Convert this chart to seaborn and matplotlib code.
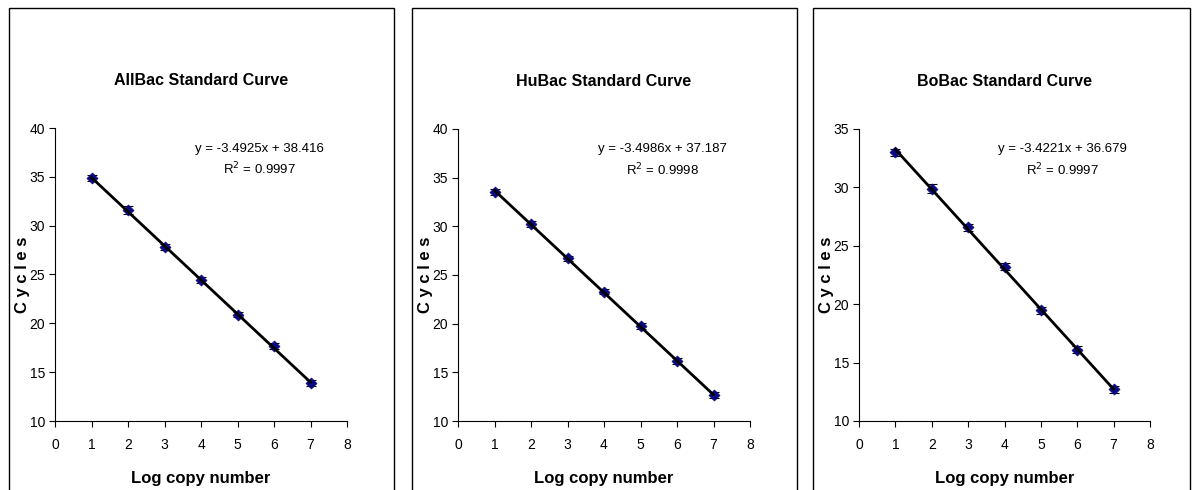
import numpy as np
import pandas as pd
import matplotlib.pyplot as plt
import seaborn as sns
from matplotlib.patches import Rectangle

log_copy = [1, 2, 3, 4, 5, 6, 7]

allbac_ct = [34.9, 31.6, 27.8, 24.4, 20.9, 17.7, 13.9]
allbac_err = [0.3, 0.45, 0.3, 0.3, 0.3, 0.3, 0.3]
hubac_ct = [33.5, 30.2, 26.7, 23.3, 19.8, 16.2, 12.7]
hubac_err = [0.3, 0.3, 0.3, 0.3, 0.3, 0.3, 0.3]
bobac_ct = [33.0, 29.9, 26.6, 23.2, 19.5, 16.1, 12.7]
bobac_err = [0.3, 0.35, 0.3, 0.3, 0.3, 0.3, 0.3]

titles = ["AllBac Standard Curve", "HuBac Standard Curve", "BoBac Standard Curve"]
slopes = [-3.4925, -3.4986, -3.4221]
intercepts = [38.416, 37.187, 36.679]
r2 = ["0.9997", "0.9998", "0.9997"]
y_tops = [40, 40, 35]

sns.set_style("white")
plt.rcParams['font.family'] = ['Liberation Sans Narrow', 'Liberation Sans', 'DejaVu Sans']
plt.rcParams.update({"text.color": "black", "axes.labelcolor": "black",
                     "xtick.color": "black", "ytick.color": "black"})

fig = plt.figure(figsize=(11.93, 4.9), dpi=100)
W, H = 1193, 490

# panel frames (pixels: left, right)
frames = [(9, 394), (412, 797), (813, 1190)]
# axes boxes in pixels: x0, x8, ytop, ybottom
axboxes = [(55, 347, 128, 421), (458, 750, 129, 421), (859, 1150, 129, 421)]

series = [(allbac_ct, allbac_err), (hubac_ct, hubac_err), (bobac_ct, bobac_err)]

for i in range(3):
    fl, fr = frames[i]
    fig.patches.append(Rectangle((fl / W, -0.05), (fr - fl) / W, (H - 8) / H + 0.05,
                                 transform=fig.transFigure, fill=False,
                                 edgecolor="black", linewidth=1.0))
    x0, x1, yt, yb = axboxes[i]
    ax = fig.add_axes([x0 / W, 1 - yb / H, (x1 - x0) / W, (yb - yt) / H])
    ct, err = series[i]
    df = pd.DataFrame({"x": log_copy, "ct": ct})
    df["fit"] = slopes[i] * df["x"] + intercepts[i]

    ax.errorbar(df["x"], df["ct"], yerr=err, fmt="none", ecolor="black",
                elinewidth=0.8, capsize=3.5, capthick=0.8, zorder=2)
    sns.scatterplot(data=df, x="x", y="ct", marker="D", s=32, color="#0A0A80",
                    edgecolor="#0A0A80", ax=ax, zorder=3)
    sns.lineplot(data=df, x="x", y="fit", color="black", linewidth=2, ax=ax, zorder=4)

    ax.set_xlim(0, 8)
    ax.set_ylim(10, y_tops[i])
    ax.set_xticks(range(0, 9))
    ax.set_yticks(range(10, y_tops[i] + 1, 5))
    sns.despine(ax=ax)
    for s in ["left", "bottom"]:
        ax.spines[s].set_color("black")
        ax.spines[s].set_linewidth(0.8)
    ax.tick_params(axis="both", which="major", direction="out", length=4,
                   width=0.8, color="black", labelsize=10, left=True, bottom=True)
    ax.tick_params(axis="x", pad=8)
    ax.tick_params(axis="y", pad=3)
    ax.set_xlabel("Log copy number", fontsize=12, fontweight="bold", labelpad=14)
    ax.set_ylabel("C y c l e s", fontsize=12, fontweight="bold")
    ax.yaxis.set_label_coords(-0.085, 0.5)
    ax.set_title(titles[i], fontsize=11.5, fontweight="bold", pad=31)
    ax.text(0.70, 0.93, "y = %.4fx + %.3f" % (slopes[i], intercepts[i]),
            transform=ax.transAxes, ha="center", va="center", fontsize=9.5)
    ax.text(0.70, 0.86, "R$^2$ = " + r2[i], transform=ax.transAxes,
            ha="center", va="center", fontsize=9.5)

fig.savefig("out.png", dpi=100)
